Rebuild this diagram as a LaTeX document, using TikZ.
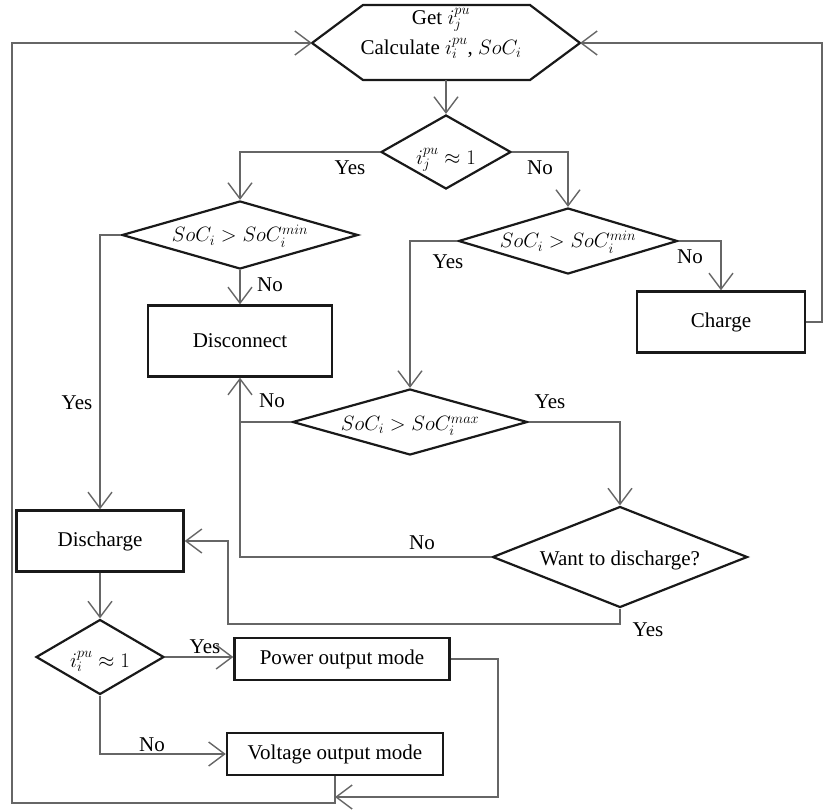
\documentclass[tikz,border=0pt]{standalone}
\usepackage{fontspec}
\setmainfont{Liberation Serif}
\usetikzlibrary{shapes.geometric,arrows.meta,calc}
\begin{document}
\begin{tikzpicture}[x=1pt,y=-1pt,
  font=\fontsize{21}{25}\selectfont,
  box/.style={draw=black!90, line width=2.4pt, inner sep=0pt},
  dia/.style={draw=black!90, shape=diamond, line width=2.2pt, inner sep=0pt},
  conn/.style={draw=black!60, line width=1.4pt},
  arr/.style={conn, -{Straight Barb[length=16pt,width=24pt,line width=1.4pt]}},
  lbl/.style={inner sep=0pt}]
\useasboundingbox (0,0) rectangle (825,809);

% start block (hexagon)
\coordinate (hexL) at (312,43);
\coordinate (hexR) at (580,43);
\coordinate (hexB) at (446,80);
\draw[line width=2.2pt, draw=black!90] (hexL) -- (363,5) -- (530,5) -- (hexR) -- (530,80) -- (363,80) -- cycle;
\node[lbl, align=center, font=\fontsize{21}{30}\selectfont] (start) at (441,33)
  {Get $i_j^{pu}$\\ Calculate $i_i^{pu}$, $SoC_i$};

% decisions
\node[dia, minimum width=130pt, minimum height=74pt] (d1) at (446,152) {};
\node[lbl] (t1) at (446,160) {$i_j^{pu}\approx 1$};
\node[dia, minimum width=236pt, minimum height=68pt] (d2) at (240,235) {};
\node[lbl] (t2) at (240,236) {$SoC_i > SoC_i^{min}$};
\node[dia, minimum width=219pt, minimum height=66pt] (d3) at (568,241) {};
\node[lbl] (t3) at (568,242) {$SoC_i > SoC_i^{min}$};
\node[dia, minimum width=235pt, minimum height=66pt] (d4) at (410,422) {};
\node[lbl] (t4) at (410,426) {$SoC_i > SoC_i^{max}$};
\node[dia, minimum width=255pt, minimum height=101pt] (d5) at (620,557) {};
\node[lbl] (t5) at (620,560) {Want to discharge?};
\node[dia, minimum width=128pt, minimum height=75pt] (d6) at (100,657) {};
\node[lbl] (t6) at (100,661) {$i_i^{pu}\approx 1$};

% process blocks
\node[box, minimum width=168pt, minimum height=61pt] (charge) at (721,322) {Charge};
\node[box, minimum width=184pt, minimum height=71pt] (disc) at (240,341) {Disconnect};
\node[box, minimum width=167pt, minimum height=61pt] (dis) at (100,541) {Discharge};
\node[box, minimum width=215pt, minimum height=42pt] (pow) at (342,659) {Power output mode};
\node[box, minimum width=216pt, minimum height=42pt] (vol) at (335,754) {Voltage output mode};

% helper points for the routed connectors
\coordinate (rloop) at (822,43);
\coordinate (j1) at (d4.west -| disc.south);
\coordinate (yl) at (228,624);
\coordinate (pr) at (498,797);
\coordinate (lb) at (12,803);

% connectors
\draw[arr] (hexB) -- (d1.north);
\draw[arr] (d1.west) -| (d2.north);
\draw[arr] (d1.east) -| (d3.north);
\draw[arr] (d2.south) -- (disc.north);
\draw[arr] (d2.west) -| (dis.north);
\draw[arr] (d3.west) -| (d4.north);
\draw[arr] (d3.east) -| (charge.north);
\draw[arr] (charge.east) -| (rloop) -- (hexR);
\draw[arr] (d4.west) -| (disc.south);
\draw[conn] (d5.west) -| (j1);
\draw[arr] (d4.east) -| (d5.north);
\draw[arr] (d5.south) |- (yl) |- (dis.east);
\draw[arr] (dis.south) -- (d6.north);
\draw[arr] (d6.east) -- (d6.east -| pow.west);
\draw[arr] (d6.south) |- (vol.west);
\draw[arr] (pow.east) -| (pr) -- (vol.south |- pr);
\draw[arr] (vol.south) |- (lb) |- (hexL);

% branch labels
\node[lbl] (y1) at (350,168) {Yes};
\node[lbl] (n1) at (540,168) {No};
\node[lbl] (n2) at (270,285) {No};
\node[lbl] (y2) at (77,403) {Yes};
\node[lbl] (y3) at (448,262) {Yes};
\node[lbl] (n3) at (690,257) {No};
\node[lbl] (n4) at (272,401) {No};
\node[lbl] (y4) at (550,402) {Yes};
\node[lbl] (n5) at (422,543) {No};
\node[lbl] (y5) at (648,630) {Yes};
\node[lbl] (y6) at (205,647) {Yes};
\node[lbl] (n6) at (152,745) {No};
\end{tikzpicture}
\end{document}
